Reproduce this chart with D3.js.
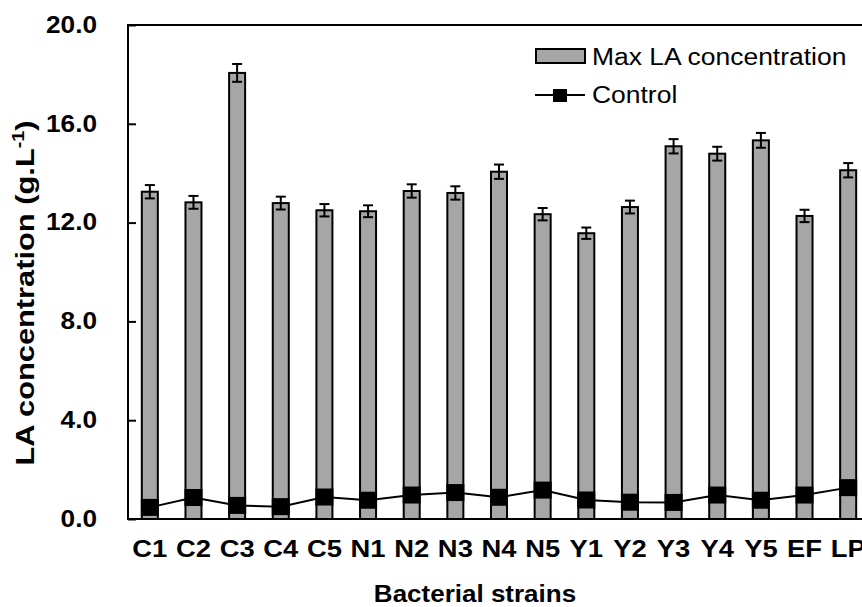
<!DOCTYPE html>
<html><head><meta charset="utf-8">
<script src="https://cdn.jsdelivr.net/npm/d3@7"></script>
<style>
html,body{margin:0;padding:0;background:#fff;}
svg{display:block;font-family:"Liberation Sans",Arial,sans-serif;}
</style></head>
<body>
<svg id="chart" width="862" height="607"></svg>
<script>
const categories = ["C1","C2","C3","C4","C5","N1","N2","N3","N4","N5","Y1","Y2","Y3","Y4","Y5","EF","LP"];
const maxLA = [13.25,12.82,18.06,12.79,12.50,12.46,13.28,13.20,14.06,12.34,11.57,12.63,15.09,14.79,15.33,12.27,14.12];
const maxLAErr = [0.27,0.26,0.36,0.26,0.25,0.24,0.27,0.27,0.29,0.25,0.23,0.26,0.29,0.28,0.30,0.25,0.29];
const control = [0.47,0.87,0.55,0.50,0.89,0.76,0.97,1.07,0.88,1.17,0.77,0.68,0.67,0.97,0.76,0.97,1.27];
const yTicks = [0,4,8,12,16,20];
const seriesNames = ["Max LA concentration","Control"];

function stretch(sel, k){
  k = k || 1.14;
  sel.each(function(){
    const w = this.getComputedTextLength();
    d3.select(this).attr("textLength", w*k).attr("lengthAdjust","spacingAndGlyphs");
  });
}

const svg = d3.select("#chart");
const M = {left:128, top:25, right:870, bottom:519};
const x = d3.scaleBand().domain(categories).range([M.left, M.right]).paddingInner(0.633).paddingOuter(0.3165);
const y = d3.scaleLinear().domain([0,20]).range([M.bottom, M.top]);
const barFill = "#a6a6a6";

// bars
svg.append("g").selectAll("rect").data(categories).join("rect")
  .attr("x", d => x(d)).attr("width", x.bandwidth())
  .attr("y", (d,i) => y(maxLA[i])).attr("height", (d,i) => y(0) - y(maxLA[i]))
  .attr("fill", barFill).attr("stroke", "#000").attr("stroke-width", 2);

// error bars
const eb = svg.append("g").attr("stroke","#000").attr("stroke-width",2);
categories.forEach((c,i) => {
  const cx = x(c) + x.bandwidth()/2;
  const hi = y(maxLA[i]+maxLAErr[i]), lo = y(maxLA[i]-maxLAErr[i]);
  eb.append("line").attr("x1",cx).attr("x2",cx).attr("y1",hi).attr("y2",lo);
  eb.append("line").attr("x1",cx-5).attr("x2",cx+5).attr("y1",hi).attr("y2",hi);
  eb.append("line").attr("x1",cx-5).attr("x2",cx+5).attr("y1",lo).attr("y2",lo);
});

// control line + markers
const line = d3.line().x((d,i) => x(categories[i]) + x.bandwidth()/2).y(d => y(d));
svg.append("path").datum(control).attr("d", line).attr("fill","none").attr("stroke","#000").attr("stroke-width",2);
const mk = 17;
svg.append("g").selectAll("rect").data(control).join("rect")
  .attr("x", (d,i) => x(categories[i]) + x.bandwidth()/2 - mk/2 - 0.5)
  .attr("y", d => y(d) - mk/2)
  .attr("width", mk+1).attr("height", mk).attr("fill","#000");

// frame
const fr = svg.append("g").attr("stroke","#000").attr("stroke-width",2).attr("fill","none");
fr.append("rect").attr("x",M.left).attr("y",M.top).attr("width",M.right-M.left).attr("height",M.bottom-M.top);

// y axis
const yAxis = d3.axisLeft(y).tickValues(yTicks).tickFormat(d3.format(".1f")).tickSizeInner(-8).tickSizeOuter(0).tickPadding(31);
const ya = svg.append("g").attr("transform",`translate(${M.left},0)`).call(yAxis);
ya.select(".domain").remove();
ya.selectAll(".tick line").attr("stroke","#000").attr("stroke-width",2);
ya.selectAll(".tick text").attr("font-family","'Liberation Sans',Arial,sans-serif").attr("font-size",23).attr("font-weight","bold").attr("fill","#000").call(stretch);

// x axis
const xAxis = d3.axisBottom(x).tickSize(0).tickPadding(21);
const xa = svg.append("g").attr("transform",`translate(0,${M.bottom})`).call(xAxis);
xa.select(".domain").remove();
xa.selectAll(".tick text").attr("font-family","'Liberation Sans',Arial,sans-serif").attr("font-size",24).attr("font-weight","bold").attr("fill","#000").call(stretch);

// axis titles
svg.append("text").attr("x",475).attr("y",602).attr("text-anchor","middle")
  .attr("font-size",23).attr("font-weight","bold").text("Bacterial strains").call(stretch, 1.13);
const yt = svg.append("text").attr("transform","translate(34,293) rotate(-90)").attr("text-anchor","middle")
  .attr("font-size",25).attr("font-weight","bold")
  .attr("textLength",345).attr("lengthAdjust","spacingAndGlyphs");
yt.append("tspan").text("LA concentration (g.L");
yt.append("tspan").attr("font-size",16).attr("dy",-10).text("-1");
yt.append("tspan").attr("dy",10).text(")");

// legend
const lg = svg.append("g");
lg.append("rect").attr("x",536).attr("y",49).attr("width",49).attr("height",14).attr("fill",barFill).attr("stroke","#000").attr("stroke-width",2);
lg.append("text").attr("x",592).attr("y",65).attr("font-size",23).text(seriesNames[0]).call(stretch, 1.15);
lg.append("line").attr("x1",535).attr("x2",585).attr("y1",95).attr("y2",95).attr("stroke","#000").attr("stroke-width",2);
lg.append("rect").attr("x",553).attr("y",89).attr("width",14).attr("height",13).attr("fill","#000");
lg.append("text").attr("x",592).attr("y",103).attr("font-size",23).text(seriesNames[1]).call(stretch, 1.15);
</script>
</body></html>
